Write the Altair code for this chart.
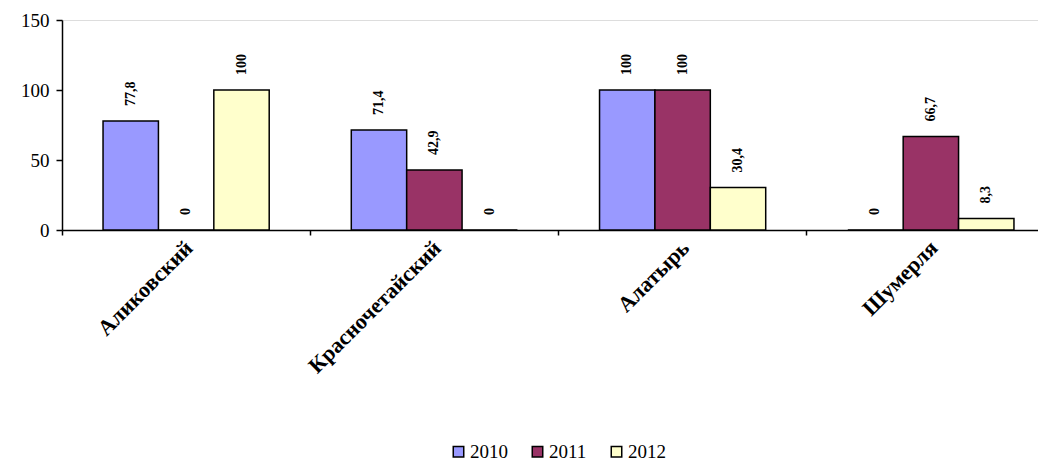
import altair as alt
import pandas as pd

categories = ["Аликовский", "Красночетайский", "Алатырь", "Шумерля"]
years = ["2010", "2011", "2012"]
v2010 = [77.8, 71.4, 100, 0]
v2011 = [0, 42.9, 100, 66.7]
v2012 = [100, 0, 30.4, 8.3]
colors = ["#9999FF", "#993366", "#FFFFCC"]
y_ticks = [0, 50, 100, 150]

rows = []
for i, c in enumerate(categories):
    for yr, vals in zip(years, [v2010, v2011, v2012]):
        v = vals[i]
        rows.append({"cat": c, "year": yr, "value": v,
                     "label": f"{v:g}".replace(".", ",")})
df = pd.DataFrame(rows)

SERIF = "Liberation Serif"

x = alt.X("cat:N", sort=categories, title=None,
          scale=alt.Scale(range=[0, 993], paddingInner=0, paddingOuter=0),
          axis=alt.Axis(bandPosition=0, labelOffset=3, labelAngle=-45,
                        labelAlign="right", labelBaseline="middle",
                        labelFont=SERIF, labelFontWeight="bold", labelFontSize=22,
                        labelColor="black", labelPadding=9,
                        tickColor="black", tickSize=5, tickWidth=1.5,
                        domainColor="black", domainWidth=1.5, grid=False))
xo = alt.XOffset("year:N", sort=years,
                 scale=alt.Scale(paddingInner=0, paddingOuter=0.741))
y = alt.Y("value:Q", title=None,
          scale=alt.Scale(domain=[0, 150], nice=False),
          axis=alt.Axis(values=y_ticks, labelFont=SERIF, labelFontSize=19,
                        labelColor="black", labelPadding=7,
                        tickColor="black", tickSize=6, tickWidth=1.5,
                        domainColor="black", domainWidth=1.5, grid=False))

bars = alt.Chart(df).mark_bar(stroke="black", strokeWidth=1.5).encode(
    x=x, xOffset=xo, y=y,
    color=alt.Color("year:N", sort=years,
                    scale=alt.Scale(domain=years, range=colors),
                    legend=alt.Legend(title=None, orient="none", direction="horizontal",
                                      legendX=387, legendY=422,
                                      symbolType="square", symbolSize=110,
                                      symbolStrokeColor="black", symbolStrokeWidth=1.5,
                                      symbolOpacity=1,
                                      labelFont=SERIF, labelFontSize=19,
                                      labelColor="black", labelOffset=2,
                                      columnPadding=20)),
)

labels = alt.Chart(df).mark_text(angle=270, align="left", baseline="middle",
                                 yOffset=-15, font=SERIF, fontWeight="bold",
                                 fontSize=14, color="black").encode(
    x=x, xOffset=xo, y=y, text="label:N"
)

chart = alt.layer(bars, labels).properties(
    width=976, height=210,
    autosize=alt.AutoSizeParams(type="none"),
    padding={"left": 54, "top": 12, "right": 0, "bottom": 232},
).configure_view(stroke=None).configure(background="white")

chart.save("out.html", embed_options={"renderer": "svg", "actions": False})
